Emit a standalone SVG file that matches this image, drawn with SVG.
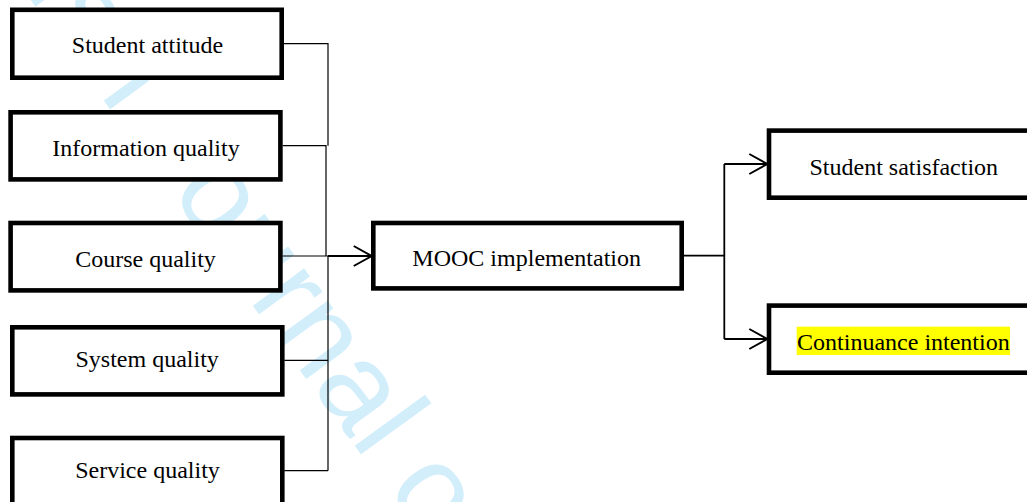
<svg xmlns="http://www.w3.org/2000/svg" width="1027" height="502" viewBox="0 0 1027 502">
  <style>
    .box { fill: #ffffff; stroke: #000000; stroke-width: 4.6; }
    .lbl { font-family: "Liberation Serif", "Times New Roman", serif; font-size: 24px; fill: #000000; text-anchor: middle; }
    .thin { fill: none; stroke: #000000; stroke-width: 1.2; }
    .thick { fill: none; stroke: #000000; stroke-width: 1.8; }
    .wm { font-family: "Liberation Sans", Arial, sans-serif; font-size: 120px; fill: #d2eefb; }
  </style>
  <defs>
    <marker id="open" markerUnits="userSpaceOnUse" markerWidth="24" markerHeight="24" refX="19" refY="11" orient="auto" overflow="visible">
      <path d="M 1 1 L 19 11 L 1 21" fill="none" stroke="#000000" stroke-width="2"/>
    </marker>
  </defs>
  <rect x="0" y="0" width="1027" height="502" fill="#ffffff"/>
  <text class="wm" transform="translate(-81.2,-154.2) rotate(54)" x="0" y="0">British Journal of Educational Technology</text>

  <g id="student-attitude">
    <rect class="box" x="12.3" y="9.8" width="269.4" height="67.9"/>
    <text class="lbl" x="147.5" y="53.3">Student attitude</text>
  </g>
  <g id="information-quality">
    <rect class="box" x="10.6" y="112.3" width="269.8" height="67.1"/>
    <text class="lbl" x="146" y="155.7">Information quality</text>
  </g>
  <g id="course-quality">
    <rect class="box" x="10.6" y="223" width="269.8" height="67.4"/>
    <text class="lbl" x="145.5" y="266.5">Course quality</text>
  </g>
  <g id="system-quality">
    <rect class="box" x="12.3" y="327.3" width="270" height="67.1"/>
    <text class="lbl" x="147.2" y="367.3">System quality</text>
  </g>
  <g id="service-quality">
    <rect class="box" x="12.3" y="438" width="270" height="67"/>
    <text class="lbl" x="147.5" y="477.7">Service quality</text>
  </g>
  <g id="mooc-implementation">
    <rect class="box" x="373.3" y="223" width="308.4" height="65.4"/>
    <text class="lbl" x="526.7" y="266">MOOC implementation</text>
  </g>
  <g id="student-satisfaction">
    <rect class="box" x="769" y="130.6" width="270" height="67.1"/>
    <text class="lbl" x="903.8" y="175">Student satisfaction</text>
  </g>
  <g id="continuance-intention">
    <rect class="box" x="769" y="305.6" width="270" height="67.1"/>
    <rect x="796.7" y="326.7" width="213.3" height="28.3" fill="#ffff00"/>
    <text class="lbl" x="903.4" y="350">Continuance intention</text>
  </g>

  <g id="connectors">
    <path class="thin" d="M 284 43.7 H 328 V 145.7"/>
    <path class="thin" d="M 282.7 145.7 H 326 V 256"/>
    <path class="thin" d="M 282.7 256 H 328"/>
    <path class="thin" d="M 328 256 V 470.7"/>
    <path class="thin" d="M 284.3 360.3 H 328"/>
    <path class="thin" d="M 284.3 470.7 H 328"/>
    <path class="thick" d="M 328 256 H 371.7" marker-end="url(#open)"/>
    <path class="thick" d="M 684 255.7 H 724.3"/>
    <path class="thick" d="M 724.3 164 V 339"/>
    <path class="thick" d="M 724.3 164 H 767.3" marker-end="url(#open)"/>
    <path class="thick" d="M 724.3 339 H 767.3" marker-end="url(#open)"/>
  </g>
</svg>
